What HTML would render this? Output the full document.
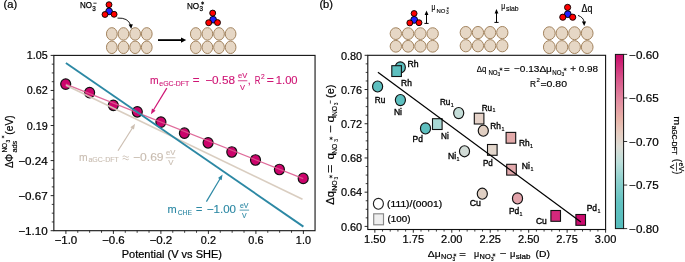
<!DOCTYPE html>
<html><head><meta charset="utf-8"><style>
html,body{margin:0;padding:0;background:#fff;overflow:hidden}
svg{display:block;will-change:transform}
text{font-family:"Liberation Sans", sans-serif}
</style></head><body>
<svg width="685" height="262" viewBox="0 0 685 262" font-family='"Liberation Sans", sans-serif'>
<rect width="685" height="262" fill="#fff"/>
<text x="3.6" y="7.7" font-size="10" fill="#000" stroke="#000" stroke-width="0.2" textLength="13.6" lengthAdjust="spacingAndGlyphs" >(a)</text>
<text x="319.4" y="7.7" font-size="10" fill="#000" stroke="#000" stroke-width="0.2" textLength="13.6" lengthAdjust="spacingAndGlyphs" >(b)</text>
<g stroke="#000" stroke-width="0.25">
<text x="80" y="7.9" font-size="9.0" textLength="12.0" lengthAdjust="spacingAndGlyphs">NO</text>
<text x="92.2" y="10.5" font-size="6.3">3</text>
</g>
<line x1="93.4" y1="3.2" x2="96.6" y2="3.2" stroke="#000" stroke-width="0.8" />
<circle cx="109" cy="4.7" r="2.95" fill="#ff0000" stroke="#000" stroke-width="0.9"/>
<circle cx="109.1" cy="11.4" r="3.4" fill="#1f1fff" stroke="#000" stroke-width="0.9"/>
<circle cx="105" cy="14.5" r="2.95" fill="#ff0000" stroke="#000" stroke-width="0.9"/>
<circle cx="114.1" cy="14.3" r="2.95" fill="#ff0000" stroke="#000" stroke-width="0.9"/>
<path d="M117.5,18.1 Q128,17.5 130.6,25" fill="none" stroke="#000" stroke-width="0.9"/>
<polygon points="131.2,29 128.6,24.4 132.8,24.2" fill="#000"/>
<ellipse cx="111.83" cy="33.9" rx="5.37" ry="6.25" fill="#e6d7c5" stroke="#a3845f" stroke-width="1.0"/>
<ellipse cx="123.47" cy="33.9" rx="5.37" ry="6.25" fill="#e6d7c5" stroke="#a3845f" stroke-width="1.0"/>
<ellipse cx="135.12" cy="33.9" rx="5.37" ry="6.25" fill="#e6d7c5" stroke="#a3845f" stroke-width="1.0"/>
<ellipse cx="146.77" cy="33.9" rx="5.37" ry="6.25" fill="#e6d7c5" stroke="#a3845f" stroke-width="1.0"/>
<ellipse cx="111.83" cy="47.3" rx="5.37" ry="6.25" fill="#e6d7c5" stroke="#a3845f" stroke-width="1.0"/>
<ellipse cx="123.47" cy="47.3" rx="5.37" ry="6.25" fill="#e6d7c5" stroke="#a3845f" stroke-width="1.0"/>
<ellipse cx="135.12" cy="47.3" rx="5.37" ry="6.25" fill="#e6d7c5" stroke="#a3845f" stroke-width="1.0"/>
<ellipse cx="146.77" cy="47.3" rx="5.37" ry="6.25" fill="#e6d7c5" stroke="#a3845f" stroke-width="1.0"/>
<line x1="158" y1="40.1" x2="181.5" y2="40.1" stroke="#000" stroke-width="1.8" />
<polygon points="186.2,40.1 181,42.7 181,37.5" fill="#000"/>
<g stroke="#000" stroke-width="0.25">
<text x="187" y="8.8" font-size="9.8" textLength="12.2" lengthAdjust="spacingAndGlyphs">NO</text>
<text x="199.4" y="11.4" font-size="6.3">3</text>
</g>
<path d="M202.60,1.40L202.60,4.80M201.13,2.25L204.07,3.95M204.07,2.25L201.13,3.95" stroke="#000" stroke-width="0.75" fill="none"/>
<circle cx="212.7" cy="13.1" r="3.0" fill="#ff0000" stroke="#000" stroke-width="0.9"/>
<circle cx="213.1" cy="19.7" r="3.4" fill="#1f1fff" stroke="#000" stroke-width="0.9"/>
<circle cx="208.7" cy="22.7" r="3.0" fill="#ff0000" stroke="#000" stroke-width="0.9"/>
<circle cx="217.5" cy="22.6" r="3.0" fill="#ff0000" stroke="#000" stroke-width="0.9"/>
<ellipse cx="195.8" cy="33.9" rx="5.35" ry="6.25" fill="#e6d7c5" stroke="#a3845f" stroke-width="1.0"/>
<ellipse cx="207.4" cy="33.9" rx="5.35" ry="6.25" fill="#e6d7c5" stroke="#a3845f" stroke-width="1.0"/>
<ellipse cx="219" cy="33.9" rx="5.35" ry="6.25" fill="#e6d7c5" stroke="#a3845f" stroke-width="1.0"/>
<ellipse cx="230.6" cy="33.9" rx="5.35" ry="6.25" fill="#e6d7c5" stroke="#a3845f" stroke-width="1.0"/>
<ellipse cx="195.8" cy="47.3" rx="5.35" ry="6.25" fill="#e6d7c5" stroke="#a3845f" stroke-width="1.0"/>
<ellipse cx="207.4" cy="47.3" rx="5.35" ry="6.25" fill="#e6d7c5" stroke="#a3845f" stroke-width="1.0"/>
<ellipse cx="219" cy="47.3" rx="5.35" ry="6.25" fill="#e6d7c5" stroke="#a3845f" stroke-width="1.0"/>
<ellipse cx="230.6" cy="47.3" rx="5.35" ry="6.25" fill="#e6d7c5" stroke="#a3845f" stroke-width="1.0"/>
<rect x="53.85" y="55.4" width="261.2" height="175.3" fill="none" stroke="#111" stroke-width="1.1"/>
<line x1="65.9" y1="230.7" x2="65.9" y2="233.9" stroke="#111" stroke-width="0.9" />
<line x1="77.78" y1="230.7" x2="77.78" y2="232.8" stroke="#111" stroke-width="0.8" />
<line x1="89.65" y1="230.7" x2="89.65" y2="232.8" stroke="#111" stroke-width="0.8" />
<line x1="101.53" y1="230.7" x2="101.53" y2="232.8" stroke="#111" stroke-width="0.8" />
<line x1="113.4" y1="230.7" x2="113.4" y2="233.9" stroke="#111" stroke-width="0.9" />
<line x1="125.28" y1="230.7" x2="125.28" y2="232.8" stroke="#111" stroke-width="0.8" />
<line x1="137.15" y1="230.7" x2="137.15" y2="232.8" stroke="#111" stroke-width="0.8" />
<line x1="149.03" y1="230.7" x2="149.03" y2="232.8" stroke="#111" stroke-width="0.8" />
<line x1="160.9" y1="230.7" x2="160.9" y2="233.9" stroke="#111" stroke-width="0.9" />
<line x1="172.78" y1="230.7" x2="172.78" y2="232.8" stroke="#111" stroke-width="0.8" />
<line x1="184.65" y1="230.7" x2="184.65" y2="232.8" stroke="#111" stroke-width="0.8" />
<line x1="196.53" y1="230.7" x2="196.53" y2="232.8" stroke="#111" stroke-width="0.8" />
<line x1="208.4" y1="230.7" x2="208.4" y2="233.9" stroke="#111" stroke-width="0.9" />
<line x1="220.28" y1="230.7" x2="220.28" y2="232.8" stroke="#111" stroke-width="0.8" />
<line x1="232.15" y1="230.7" x2="232.15" y2="232.8" stroke="#111" stroke-width="0.8" />
<line x1="244.03" y1="230.7" x2="244.03" y2="232.8" stroke="#111" stroke-width="0.8" />
<line x1="255.9" y1="230.7" x2="255.9" y2="233.9" stroke="#111" stroke-width="0.9" />
<line x1="267.77" y1="230.7" x2="267.77" y2="232.8" stroke="#111" stroke-width="0.8" />
<line x1="279.65" y1="230.7" x2="279.65" y2="232.8" stroke="#111" stroke-width="0.8" />
<line x1="291.52" y1="230.7" x2="291.52" y2="232.8" stroke="#111" stroke-width="0.8" />
<line x1="303.4" y1="230.7" x2="303.4" y2="233.9" stroke="#111" stroke-width="0.9" />
<text x="54.5" y="243.8" font-size="10.5" fill="#000" stroke="#000" stroke-width="0.2" textLength="22.8" lengthAdjust="spacingAndGlyphs" >−1.0</text>
<text x="102" y="243.8" font-size="10.5" fill="#000" stroke="#000" stroke-width="0.2" textLength="22.8" lengthAdjust="spacingAndGlyphs" >−0.6</text>
<text x="149.5" y="243.8" font-size="10.5" fill="#000" stroke="#000" stroke-width="0.2" textLength="22.8" lengthAdjust="spacingAndGlyphs" >−0.2</text>
<text x="200.85" y="243.8" font-size="10.5" fill="#000" stroke="#000" stroke-width="0.2" textLength="15.1" lengthAdjust="spacingAndGlyphs" >0.2</text>
<text x="248.35" y="243.8" font-size="10.5" fill="#000" stroke="#000" stroke-width="0.2" textLength="15.1" lengthAdjust="spacingAndGlyphs" >0.6</text>
<text x="295.85" y="243.8" font-size="10.5" fill="#000" stroke="#000" stroke-width="0.2" textLength="15.1" lengthAdjust="spacingAndGlyphs" >1.0</text>
<line x1="50.65" y1="55.4" x2="53.85" y2="55.4" stroke="#111" stroke-width="0.9" />
<line x1="51.75" y1="64.17" x2="53.85" y2="64.17" stroke="#111" stroke-width="0.8" />
<line x1="51.75" y1="72.93" x2="53.85" y2="72.93" stroke="#111" stroke-width="0.8" />
<line x1="51.75" y1="81.69" x2="53.85" y2="81.69" stroke="#111" stroke-width="0.8" />
<line x1="50.65" y1="90.46" x2="53.85" y2="90.46" stroke="#111" stroke-width="0.9" />
<line x1="51.75" y1="99.22" x2="53.85" y2="99.22" stroke="#111" stroke-width="0.8" />
<line x1="51.75" y1="107.99" x2="53.85" y2="107.99" stroke="#111" stroke-width="0.8" />
<line x1="51.75" y1="116.75" x2="53.85" y2="116.75" stroke="#111" stroke-width="0.8" />
<line x1="50.65" y1="125.52" x2="53.85" y2="125.52" stroke="#111" stroke-width="0.9" />
<line x1="51.75" y1="134.28" x2="53.85" y2="134.28" stroke="#111" stroke-width="0.8" />
<line x1="51.75" y1="143.05" x2="53.85" y2="143.05" stroke="#111" stroke-width="0.8" />
<line x1="51.75" y1="151.81" x2="53.85" y2="151.81" stroke="#111" stroke-width="0.8" />
<line x1="50.65" y1="160.58" x2="53.85" y2="160.58" stroke="#111" stroke-width="0.9" />
<line x1="51.75" y1="169.34" x2="53.85" y2="169.34" stroke="#111" stroke-width="0.8" />
<line x1="51.75" y1="178.11" x2="53.85" y2="178.11" stroke="#111" stroke-width="0.8" />
<line x1="51.75" y1="186.88" x2="53.85" y2="186.88" stroke="#111" stroke-width="0.8" />
<line x1="50.65" y1="195.64" x2="53.85" y2="195.64" stroke="#111" stroke-width="0.9" />
<line x1="51.75" y1="204.4" x2="53.85" y2="204.4" stroke="#111" stroke-width="0.8" />
<line x1="51.75" y1="213.17" x2="53.85" y2="213.17" stroke="#111" stroke-width="0.8" />
<line x1="51.75" y1="221.94" x2="53.85" y2="221.94" stroke="#111" stroke-width="0.8" />
<line x1="50.65" y1="230.7" x2="53.85" y2="230.7" stroke="#111" stroke-width="0.9" />
<text x="26.8" y="59.4" font-size="10.5" fill="#000" stroke="#000" stroke-width="0.2" textLength="21" lengthAdjust="spacingAndGlyphs" >1.05</text>
<text x="26.8" y="94.46" font-size="10.5" fill="#000" stroke="#000" stroke-width="0.2" textLength="21" lengthAdjust="spacingAndGlyphs" >0.62</text>
<text x="26.8" y="129.52" font-size="10.5" fill="#000" stroke="#000" stroke-width="0.2" textLength="21" lengthAdjust="spacingAndGlyphs" >0.19</text>
<text x="18.3" y="164.58" font-size="10.5" fill="#000" stroke="#000" stroke-width="0.2" textLength="29.5" lengthAdjust="spacingAndGlyphs" >−0.24</text>
<text x="18.3" y="199.64" font-size="10.5" fill="#000" stroke="#000" stroke-width="0.2" textLength="29.5" lengthAdjust="spacingAndGlyphs" >−0.67</text>
<text x="18.3" y="234.7" font-size="10.5" fill="#000" stroke="#000" stroke-width="0.2" textLength="29.5" lengthAdjust="spacingAndGlyphs" >−1.10</text>
<text x="121.7" y="258" font-size="10" fill="#000" stroke="#000" stroke-width="0.2" textLength="100.3" lengthAdjust="spacingAndGlyphs" >Potential (V vs SHE)</text>
<g transform="translate(13.0,168.4) rotate(-90)" stroke="#000" stroke-width="0.18"><text x="0.3" y="0" font-size="10.5" textLength="14.2" lengthAdjust="spacingAndGlyphs">ΔΦ</text><text x="15.8" y="-5.8" font-size="6.6" textLength="9.8" lengthAdjust="spacingAndGlyphs">NO</text><text x="25.8" y="-3.4" font-size="4.8">3</text><text x="15.8" y="3.7" font-size="6.8" textLength="11.9" lengthAdjust="spacingAndGlyphs">ads</text><text x="33.7" y="0.4" font-size="10.5" textLength="19.4" lengthAdjust="spacingAndGlyphs">(eV)</text></g>
<path d="M3.00,135.50L3.00,138.30M1.79,136.20L4.21,137.60M4.21,136.20L1.79,137.60" stroke="#000" stroke-width="0.6" fill="none"/>
<ellipse cx="65.7" cy="84.1" rx="5.0" ry="5.25" fill="#cc046c" stroke="#111" stroke-width="1.2"/>
<ellipse cx="89.6" cy="92.6" rx="5.0" ry="5.25" fill="#cc046c" stroke="#111" stroke-width="1.2"/>
<ellipse cx="113.3" cy="105.3" rx="5.0" ry="5.25" fill="#cc046c" stroke="#111" stroke-width="1.2"/>
<ellipse cx="137.3" cy="111.8" rx="5.0" ry="5.25" fill="#cc046c" stroke="#111" stroke-width="1.2"/>
<ellipse cx="160.9" cy="122.1" rx="5.0" ry="5.25" fill="#cc046c" stroke="#111" stroke-width="1.2"/>
<ellipse cx="184.4" cy="133.2" rx="5.0" ry="5.25" fill="#cc046c" stroke="#111" stroke-width="1.2"/>
<ellipse cx="208.1" cy="142.8" rx="5.0" ry="5.25" fill="#cc046c" stroke="#111" stroke-width="1.2"/>
<ellipse cx="231.8" cy="152.0" rx="5.0" ry="5.25" fill="#cc046c" stroke="#111" stroke-width="1.2"/>
<ellipse cx="255.5" cy="160.0" rx="5.0" ry="5.25" fill="#cc046c" stroke="#111" stroke-width="1.2"/>
<ellipse cx="279.4" cy="169.5" rx="5.0" ry="5.25" fill="#cc046c" stroke="#111" stroke-width="1.2"/>
<ellipse cx="303.2" cy="178.4" rx="5.0" ry="5.25" fill="#cc046c" stroke="#111" stroke-width="1.2"/>
<line x1="65.7" y1="84.1" x2="303.2" y2="178.7" stroke="#dc5a8e" stroke-width="1.3" stroke-opacity="0.9"/>
<line x1="65.9" y1="85.2" x2="302.5" y2="199.3" stroke="#d6c9bb" stroke-width="1.7" stroke-opacity="0.92"/>
<line x1="65.9" y1="63" x2="303.4" y2="226.6" stroke="#2c88a4" stroke-width="1.9" />
<line x1="166.8" y1="88.1" x2="153.49" y2="110.03" stroke="#cf1675" stroke-width="1.2" />
<polygon points="150.9,114.3 151.96,108.51 155.55,110.69" fill="#cf1675"/>
<line x1="118" y1="150.7" x2="132.42" y2="128.02" stroke="#cdbfb2" stroke-width="1.2" />
<polygon points="135.1,123.8 133.92,129.57 130.38,127.31" fill="#cdbfb2"/>
<line x1="206.4" y1="201.6" x2="220.04" y2="178.7" stroke="#2c88a4" stroke-width="1.2" />
<polygon points="222.6,174.4 221.59,180.2 217.98,178.05" fill="#2c88a4"/>
<text x="149.9" y="84.4" font-size="10.6" fill="#cf1675" stroke="#cf1675" stroke-width="0.12" textLength="8.6" lengthAdjust="spacingAndGlyphs" >m</text>
<text x="159.3" y="86" font-size="7.0" fill="#cf1675" stroke="#cf1675" stroke-width="0.12" textLength="30" lengthAdjust="spacingAndGlyphs" >eGC-DFT</text>
<text x="192.8" y="84.4" font-size="10.6" fill="#cf1675" stroke="#cf1675" stroke-width="0.12" textLength="6.8" lengthAdjust="spacingAndGlyphs" >=</text>
<text x="205.2" y="84.4" font-size="10.6" fill="#cf1675" stroke="#cf1675" stroke-width="0.12" textLength="29.8" lengthAdjust="spacingAndGlyphs" >−0.58</text>
<text x="238" y="78.4" font-size="7.0" fill="#cf1675" stroke="#cf1675" stroke-width="0.12" textLength="9.2" lengthAdjust="spacingAndGlyphs" >eV</text>
<rect x="237.9" y="80.4" width="9.4" height="0.8" fill="#cf1675"/>
<text x="240" y="89.6" font-size="7.0" fill="#cf1675" stroke="#cf1675" stroke-width="0.12" textLength="5" lengthAdjust="spacingAndGlyphs" >V</text>
<text x="247.8" y="84.4" font-size="10.6" fill="#cf1675" stroke="#cf1675" stroke-width="0.12" >,</text>
<text x="254.7" y="84.4" font-size="10.6" fill="#cf1675" stroke="#cf1675" stroke-width="0.12" textLength="5.7" lengthAdjust="spacingAndGlyphs" >R</text>
<text x="261" y="79" font-size="7.0" fill="#cf1675" stroke="#cf1675" stroke-width="0.12" textLength="3.7" lengthAdjust="spacingAndGlyphs" >2</text>
<text x="266.7" y="84.4" font-size="10.6" fill="#cf1675" stroke="#cf1675" stroke-width="0.12" textLength="7.1" lengthAdjust="spacingAndGlyphs" >=</text>
<text x="275.8" y="84.4" font-size="10.6" fill="#cf1675" stroke="#cf1675" stroke-width="0.12" textLength="21.8" lengthAdjust="spacingAndGlyphs" >1.00</text>
<text x="79.1" y="160.8" font-size="10.6" fill="#c9bdb1" stroke="#c9bdb1" stroke-width="0.12" textLength="8.6" lengthAdjust="spacingAndGlyphs" >m</text>
<text x="88.4" y="162.4" font-size="7.0" fill="#c9bdb1" stroke="#c9bdb1" stroke-width="0.12" textLength="30.5" lengthAdjust="spacingAndGlyphs" >aGC-DFT</text>
<path d="M122.6,156.6 q1.55,-1.5 3.1,0 t3.1,0 M122.6,159.1 q1.55,-1.5 3.1,0 t3.1,0" fill="none" stroke="#c9bdb1" stroke-width="0.9"/>
<text x="133" y="160.8" font-size="10.6" fill="#c9bdb1" stroke="#c9bdb1" stroke-width="0.12" textLength="30.6" lengthAdjust="spacingAndGlyphs" >−0.69</text>
<text x="166" y="154.7" font-size="7.0" fill="#c9bdb1" stroke="#c9bdb1" stroke-width="0.12" textLength="9.4" lengthAdjust="spacingAndGlyphs" >eV</text>
<rect x="165.7" y="157.4" width="9.7" height="0.8" fill="#c9bdb1"/>
<text x="168.2" y="165.4" font-size="7.0" fill="#c9bdb1" stroke="#c9bdb1" stroke-width="0.12" textLength="5.2" lengthAdjust="spacingAndGlyphs" >V</text>
<text x="167.6" y="212.8" font-size="10.6" fill="#2c88a4" stroke="#2c88a4" stroke-width="0.12" textLength="9.2" lengthAdjust="spacingAndGlyphs" >m</text>
<text x="177.7" y="214.8" font-size="7.6" fill="#2c88a4" stroke="#2c88a4" stroke-width="0.12" textLength="14.2" lengthAdjust="spacingAndGlyphs" >CHE</text>
<text x="195.9" y="212.8" font-size="10.6" fill="#2c88a4" stroke="#2c88a4" stroke-width="0.12" textLength="6.3" lengthAdjust="spacingAndGlyphs" >=</text>
<text x="206.8" y="212.8" font-size="10.6" fill="#2c88a4" stroke="#2c88a4" stroke-width="0.12" textLength="29.2" lengthAdjust="spacingAndGlyphs" >−1.00</text>
<text x="239.9" y="207.5" font-size="7.0" fill="#2c88a4" stroke="#2c88a4" stroke-width="0.12" textLength="8.5" lengthAdjust="spacingAndGlyphs" >eV</text>
<rect x="239.6" y="209.7" width="9.5" height="0.8" fill="#2c88a4"/>
<text x="241.9" y="218.4" font-size="7.0" fill="#2c88a4" stroke="#2c88a4" stroke-width="0.12" textLength="4.6" lengthAdjust="spacingAndGlyphs" >V</text>
<ellipse cx="395.84" cy="33.62" rx="5.69" ry="5.88" fill="#e6d7c5" stroke="#a3845f" stroke-width="1.0"/>
<ellipse cx="408.11" cy="33.62" rx="5.69" ry="5.88" fill="#e6d7c5" stroke="#a3845f" stroke-width="1.0"/>
<ellipse cx="420.39" cy="33.62" rx="5.69" ry="5.88" fill="#e6d7c5" stroke="#a3845f" stroke-width="1.0"/>
<ellipse cx="432.66" cy="33.62" rx="5.69" ry="5.88" fill="#e6d7c5" stroke="#a3845f" stroke-width="1.0"/>
<ellipse cx="395.84" cy="46.28" rx="5.69" ry="5.88" fill="#e6d7c5" stroke="#a3845f" stroke-width="1.0"/>
<ellipse cx="408.11" cy="46.28" rx="5.69" ry="5.88" fill="#e6d7c5" stroke="#a3845f" stroke-width="1.0"/>
<ellipse cx="420.39" cy="46.28" rx="5.69" ry="5.88" fill="#e6d7c5" stroke="#a3845f" stroke-width="1.0"/>
<ellipse cx="432.66" cy="46.28" rx="5.69" ry="5.88" fill="#e6d7c5" stroke="#a3845f" stroke-width="1.0"/>
<circle cx="414.1" cy="13.5" r="2.95" fill="#ff0000" stroke="#000" stroke-width="0.9"/>
<circle cx="414.2" cy="19.9" r="3.45" fill="#1f1fff" stroke="#000" stroke-width="0.9"/>
<circle cx="409.8" cy="22.9" r="2.95" fill="#ff0000" stroke="#000" stroke-width="0.9"/>
<circle cx="419" cy="22.7" r="2.95" fill="#ff0000" stroke="#000" stroke-width="0.9"/>
<line x1="424.4" y1="23.4" x2="428.6" y2="23.4" stroke="#000" stroke-width="1.0" />
<line x1="426.5" y1="23.4" x2="426.5" y2="14.4" stroke="#000" stroke-width="1.0" />
<polygon points="426.5,10.4 424.6,15 428.4,15" fill="#000"/>
<line x1="494.4" y1="22.4" x2="498.6" y2="22.4" stroke="#000" stroke-width="1.0" />
<line x1="496.5" y1="22.4" x2="496.5" y2="13" stroke="#000" stroke-width="1.0" />
<polygon points="496.5,9 494.6,13.6 498.4,13.6" fill="#000"/>
<text x="431.6" y="10.2" font-size="8.8" fill="#000" stroke="#000" stroke-width="0.2" textLength="3.8" lengthAdjust="spacingAndGlyphs" >μ</text>
<text x="436.6" y="12.9" font-size="5.8" fill="#000" stroke="#000" stroke-width="0.12" textLength="8.9" lengthAdjust="spacingAndGlyphs" >NO</text>
<text x="446" y="14.2" font-size="4.8" fill="#000" stroke="#000" stroke-width="0.1" >3</text>
<path d="M447.80,7.10L447.80,9.50M446.76,7.70L448.84,8.90M448.84,7.70L446.76,8.90" stroke="#000" stroke-width="0.5" fill="none"/>
<ellipse cx="465.79" cy="32.58" rx="5.64" ry="6.12" fill="#e6d7c5" stroke="#a3845f" stroke-width="1.0"/>
<ellipse cx="477.96" cy="32.58" rx="5.64" ry="6.12" fill="#e6d7c5" stroke="#a3845f" stroke-width="1.0"/>
<ellipse cx="490.14" cy="32.58" rx="5.64" ry="6.12" fill="#e6d7c5" stroke="#a3845f" stroke-width="1.0"/>
<ellipse cx="502.31" cy="32.58" rx="5.64" ry="6.12" fill="#e6d7c5" stroke="#a3845f" stroke-width="1.0"/>
<ellipse cx="465.79" cy="45.72" rx="5.64" ry="6.12" fill="#e6d7c5" stroke="#a3845f" stroke-width="1.0"/>
<ellipse cx="477.96" cy="45.72" rx="5.64" ry="6.12" fill="#e6d7c5" stroke="#a3845f" stroke-width="1.0"/>
<ellipse cx="490.14" cy="45.72" rx="5.64" ry="6.12" fill="#e6d7c5" stroke="#a3845f" stroke-width="1.0"/>
<ellipse cx="502.31" cy="45.72" rx="5.64" ry="6.12" fill="#e6d7c5" stroke="#a3845f" stroke-width="1.0"/>
<text x="501.2" y="9" font-size="8.8" fill="#000" stroke="#000" stroke-width="0.2" textLength="3.9" lengthAdjust="spacingAndGlyphs" >μ</text>
<text x="506" y="10.9" font-size="6.8" fill="#000" stroke="#000" stroke-width="0.12" textLength="12.6" lengthAdjust="spacingAndGlyphs" >slab</text>
<ellipse cx="549.31" cy="33.23" rx="5.86" ry="6.47" fill="#e6d7c5" stroke="#a3845f" stroke-width="1.0"/>
<ellipse cx="561.94" cy="33.23" rx="5.86" ry="6.47" fill="#e6d7c5" stroke="#a3845f" stroke-width="1.0"/>
<ellipse cx="574.56" cy="33.23" rx="5.86" ry="6.47" fill="#e6d7c5" stroke="#a3845f" stroke-width="1.0"/>
<ellipse cx="587.19" cy="33.23" rx="5.86" ry="6.47" fill="#e6d7c5" stroke="#a3845f" stroke-width="1.0"/>
<ellipse cx="549.31" cy="47.08" rx="5.86" ry="6.47" fill="#e6d7c5" stroke="#a3845f" stroke-width="1.0"/>
<ellipse cx="561.94" cy="47.08" rx="5.86" ry="6.47" fill="#e6d7c5" stroke="#a3845f" stroke-width="1.0"/>
<ellipse cx="574.56" cy="47.08" rx="5.86" ry="6.47" fill="#e6d7c5" stroke="#a3845f" stroke-width="1.0"/>
<ellipse cx="587.19" cy="47.08" rx="5.86" ry="6.47" fill="#e6d7c5" stroke="#a3845f" stroke-width="1.0"/>
<circle cx="567.6" cy="7.4" r="3.1" fill="#ff0000" stroke="#000" stroke-width="0.9"/>
<circle cx="567.8" cy="14.2" r="3.4" fill="#1f1fff" stroke="#000" stroke-width="0.9"/>
<circle cx="562.8" cy="17.2" r="3.1" fill="#ff0000" stroke="#000" stroke-width="0.9"/>
<circle cx="572.7" cy="17.2" r="3.1" fill="#ff0000" stroke="#000" stroke-width="0.9"/>
<path d="M578.0,15.4 Q583.6,17.4 584.1,22" fill="none" stroke="#000" stroke-width="0.9"/>
<polygon points="584.2,25.9 581.9,21.6 586.1,21.6" fill="#000"/>
<text x="581.5" y="11.5" font-size="10" fill="#000" stroke="#000" stroke-width="0.2" textLength="10.8" lengthAdjust="spacingAndGlyphs" >Δq</text>
<rect x="367.8" y="55.3" width="237.8" height="174.2" fill="none" stroke="#111" stroke-width="1.1"/>
<line x1="374.85" y1="229.5" x2="374.85" y2="232.7" stroke="#111" stroke-width="0.9" />
<line x1="382.54" y1="229.5" x2="382.54" y2="231.6" stroke="#111" stroke-width="0.8" />
<line x1="390.23" y1="229.5" x2="390.23" y2="231.6" stroke="#111" stroke-width="0.8" />
<line x1="397.93" y1="229.5" x2="397.93" y2="231.6" stroke="#111" stroke-width="0.8" />
<line x1="405.62" y1="229.5" x2="405.62" y2="231.6" stroke="#111" stroke-width="0.8" />
<line x1="413.31" y1="229.5" x2="413.31" y2="232.7" stroke="#111" stroke-width="0.9" />
<line x1="421" y1="229.5" x2="421" y2="231.6" stroke="#111" stroke-width="0.8" />
<line x1="428.69" y1="229.5" x2="428.69" y2="231.6" stroke="#111" stroke-width="0.8" />
<line x1="436.38" y1="229.5" x2="436.38" y2="231.6" stroke="#111" stroke-width="0.8" />
<line x1="444.08" y1="229.5" x2="444.08" y2="231.6" stroke="#111" stroke-width="0.8" />
<line x1="451.77" y1="229.5" x2="451.77" y2="232.7" stroke="#111" stroke-width="0.9" />
<line x1="459.46" y1="229.5" x2="459.46" y2="231.6" stroke="#111" stroke-width="0.8" />
<line x1="467.15" y1="229.5" x2="467.15" y2="231.6" stroke="#111" stroke-width="0.8" />
<line x1="474.84" y1="229.5" x2="474.84" y2="231.6" stroke="#111" stroke-width="0.8" />
<line x1="482.53" y1="229.5" x2="482.53" y2="231.6" stroke="#111" stroke-width="0.8" />
<line x1="490.23" y1="229.5" x2="490.23" y2="232.7" stroke="#111" stroke-width="0.9" />
<line x1="497.92" y1="229.5" x2="497.92" y2="231.6" stroke="#111" stroke-width="0.8" />
<line x1="505.61" y1="229.5" x2="505.61" y2="231.6" stroke="#111" stroke-width="0.8" />
<line x1="513.3" y1="229.5" x2="513.3" y2="231.6" stroke="#111" stroke-width="0.8" />
<line x1="520.99" y1="229.5" x2="520.99" y2="231.6" stroke="#111" stroke-width="0.8" />
<line x1="528.68" y1="229.5" x2="528.68" y2="232.7" stroke="#111" stroke-width="0.9" />
<line x1="536.38" y1="229.5" x2="536.38" y2="231.6" stroke="#111" stroke-width="0.8" />
<line x1="544.07" y1="229.5" x2="544.07" y2="231.6" stroke="#111" stroke-width="0.8" />
<line x1="551.76" y1="229.5" x2="551.76" y2="231.6" stroke="#111" stroke-width="0.8" />
<line x1="559.45" y1="229.5" x2="559.45" y2="231.6" stroke="#111" stroke-width="0.8" />
<line x1="567.14" y1="229.5" x2="567.14" y2="232.7" stroke="#111" stroke-width="0.9" />
<line x1="574.83" y1="229.5" x2="574.83" y2="231.6" stroke="#111" stroke-width="0.8" />
<line x1="582.53" y1="229.5" x2="582.53" y2="231.6" stroke="#111" stroke-width="0.8" />
<line x1="590.22" y1="229.5" x2="590.22" y2="231.6" stroke="#111" stroke-width="0.8" />
<line x1="597.91" y1="229.5" x2="597.91" y2="231.6" stroke="#111" stroke-width="0.8" />
<line x1="605.6" y1="229.5" x2="605.6" y2="232.7" stroke="#111" stroke-width="0.9" />
<text x="364.1" y="243.3" font-size="10.5" fill="#000" stroke="#000" stroke-width="0.2" textLength="21.5" lengthAdjust="spacingAndGlyphs" >1.50</text>
<text x="402.56" y="243.3" font-size="10.5" fill="#000" stroke="#000" stroke-width="0.2" textLength="21.5" lengthAdjust="spacingAndGlyphs" >1.75</text>
<text x="441.02" y="243.3" font-size="10.5" fill="#000" stroke="#000" stroke-width="0.2" textLength="21.5" lengthAdjust="spacingAndGlyphs" >2.00</text>
<text x="479.48" y="243.3" font-size="10.5" fill="#000" stroke="#000" stroke-width="0.2" textLength="21.5" lengthAdjust="spacingAndGlyphs" >2.25</text>
<text x="517.93" y="243.3" font-size="10.5" fill="#000" stroke="#000" stroke-width="0.2" textLength="21.5" lengthAdjust="spacingAndGlyphs" >2.50</text>
<text x="556.39" y="243.3" font-size="10.5" fill="#000" stroke="#000" stroke-width="0.2" textLength="21.5" lengthAdjust="spacingAndGlyphs" >2.75</text>
<text x="594.85" y="243.3" font-size="10.5" fill="#000" stroke="#000" stroke-width="0.2" textLength="21.5" lengthAdjust="spacingAndGlyphs" >3.00</text>
<line x1="364.6" y1="55.3" x2="367.8" y2="55.3" stroke="#111" stroke-width="0.9" />
<line x1="365.7" y1="63.86" x2="367.8" y2="63.86" stroke="#111" stroke-width="0.8" />
<line x1="365.7" y1="72.41" x2="367.8" y2="72.41" stroke="#111" stroke-width="0.8" />
<line x1="365.7" y1="80.97" x2="367.8" y2="80.97" stroke="#111" stroke-width="0.8" />
<line x1="364.6" y1="89.52" x2="367.8" y2="89.52" stroke="#111" stroke-width="0.9" />
<line x1="365.7" y1="98.08" x2="367.8" y2="98.08" stroke="#111" stroke-width="0.8" />
<line x1="365.7" y1="106.63" x2="367.8" y2="106.63" stroke="#111" stroke-width="0.8" />
<line x1="365.7" y1="115.19" x2="367.8" y2="115.19" stroke="#111" stroke-width="0.8" />
<line x1="364.6" y1="123.74" x2="367.8" y2="123.74" stroke="#111" stroke-width="0.9" />
<line x1="365.7" y1="132.29" x2="367.8" y2="132.29" stroke="#111" stroke-width="0.8" />
<line x1="365.7" y1="140.85" x2="367.8" y2="140.85" stroke="#111" stroke-width="0.8" />
<line x1="365.7" y1="149.41" x2="367.8" y2="149.41" stroke="#111" stroke-width="0.8" />
<line x1="364.6" y1="157.96" x2="367.8" y2="157.96" stroke="#111" stroke-width="0.9" />
<line x1="365.7" y1="166.51" x2="367.8" y2="166.51" stroke="#111" stroke-width="0.8" />
<line x1="365.7" y1="175.07" x2="367.8" y2="175.07" stroke="#111" stroke-width="0.8" />
<line x1="365.7" y1="183.62" x2="367.8" y2="183.62" stroke="#111" stroke-width="0.8" />
<line x1="364.6" y1="192.18" x2="367.8" y2="192.18" stroke="#111" stroke-width="0.9" />
<line x1="365.7" y1="200.74" x2="367.8" y2="200.74" stroke="#111" stroke-width="0.8" />
<line x1="365.7" y1="209.29" x2="367.8" y2="209.29" stroke="#111" stroke-width="0.8" />
<line x1="365.7" y1="217.84" x2="367.8" y2="217.84" stroke="#111" stroke-width="0.8" />
<line x1="364.6" y1="226.4" x2="367.8" y2="226.4" stroke="#111" stroke-width="0.9" />
<text x="340.9" y="59.6" font-size="10.5" fill="#000" stroke="#000" stroke-width="0.2" textLength="21.3" lengthAdjust="spacingAndGlyphs" >0.80</text>
<text x="340.9" y="93.82" font-size="10.5" fill="#000" stroke="#000" stroke-width="0.2" textLength="21.3" lengthAdjust="spacingAndGlyphs" >0.76</text>
<text x="340.9" y="128.04" font-size="10.5" fill="#000" stroke="#000" stroke-width="0.2" textLength="21.3" lengthAdjust="spacingAndGlyphs" >0.72</text>
<text x="340.9" y="162.26" font-size="10.5" fill="#000" stroke="#000" stroke-width="0.2" textLength="21.3" lengthAdjust="spacingAndGlyphs" >0.68</text>
<text x="340.9" y="196.48" font-size="10.5" fill="#000" stroke="#000" stroke-width="0.2" textLength="21.3" lengthAdjust="spacingAndGlyphs" >0.64</text>
<text x="340.9" y="230.7" font-size="10.5" fill="#000" stroke="#000" stroke-width="0.2" textLength="21.3" lengthAdjust="spacingAndGlyphs" >0.60</text>
<text x="427.8" y="256.6" font-size="9.4" fill="#000" stroke="#000" stroke-width="0.2" textLength="12.9" lengthAdjust="spacingAndGlyphs" >Δμ</text>
<text x="441.1" y="259.4" font-size="6.4" fill="#000" stroke="#000" stroke-width="0.2" textLength="11" lengthAdjust="spacingAndGlyphs" >NO</text>
<text x="452.4" y="261.3" font-size="4.6" fill="#000" stroke="#000" stroke-width="0.2" >3</text>
<path d="M454.90,253.50L454.90,256.70M453.51,254.30L456.29,255.90M456.29,254.30L453.51,255.90" stroke="#000" stroke-width="0.7" fill="none"/>
<text x="459.2" y="256.6" font-size="9.4" fill="#000" stroke="#000" stroke-width="0.2" textLength="6.6" lengthAdjust="spacingAndGlyphs" >=</text>
<text x="473.9" y="256.6" font-size="9.4" fill="#000" stroke="#000" stroke-width="0.2" textLength="5.2" lengthAdjust="spacingAndGlyphs" >μ</text>
<text x="479.6" y="259.4" font-size="6.4" fill="#000" stroke="#000" stroke-width="0.2" textLength="11" lengthAdjust="spacingAndGlyphs" >NO</text>
<text x="490.9" y="261.3" font-size="4.6" fill="#000" stroke="#000" stroke-width="0.2" >3</text>
<path d="M494.00,253.40L494.00,256.60M492.61,254.20L495.39,255.80M495.39,254.20L492.61,255.80" stroke="#000" stroke-width="0.7" fill="none"/>
<text x="499.8" y="256.6" font-size="9.4" fill="#000" stroke="#000" stroke-width="0.2" textLength="6.7" lengthAdjust="spacingAndGlyphs" >−</text>
<text x="510" y="256.6" font-size="9.4" fill="#000" stroke="#000" stroke-width="0.2" textLength="5.4" lengthAdjust="spacingAndGlyphs" >μ</text>
<text x="515.7" y="258.8" font-size="6.6" fill="#000" stroke="#000" stroke-width="0.2" textLength="14.8" lengthAdjust="spacingAndGlyphs" >slab</text>
<text x="535.6" y="256.6" font-size="9.4" fill="#000" stroke="#000" stroke-width="0.2" textLength="14.3" lengthAdjust="spacingAndGlyphs" >(D)</text>
<g transform="translate(333.5,204.5) rotate(-90)" stroke="#000" stroke-width="0.18">
<text x="-0.2" y="0" font-size="10" textLength="13.6" lengthAdjust="spacingAndGlyphs">Δq</text>
<text x="13.8" y="3.0" font-size="6.7" textLength="10.4" lengthAdjust="spacingAndGlyphs" stroke-width="0.15">NO</text>
<text x="25.0" y="4.6" font-size="4.8" stroke-width="0.1">3</text>
<text x="31.4" y="0" font-size="10" textLength="8.2" lengthAdjust="spacingAndGlyphs">=</text>
<text x="45.0" y="0" font-size="10" textLength="6.4" lengthAdjust="spacingAndGlyphs">q</text>
<text x="50.8" y="3.0" font-size="6.7" textLength="10.0" lengthAdjust="spacingAndGlyphs" stroke-width="0.15">NO</text>
<text x="62.7" y="4.6" font-size="4.8" stroke-width="0.1">3</text>
<text x="72.0" y="0" font-size="10" textLength="7.6" lengthAdjust="spacingAndGlyphs">−</text>
<text x="82.0" y="0" font-size="10" textLength="6.8" lengthAdjust="spacingAndGlyphs">q</text>
<text x="88.4" y="3.0" font-size="6.7" textLength="10.0" lengthAdjust="spacingAndGlyphs" stroke-width="0.15">NO</text>
<text x="99.2" y="4.6" font-size="4.8" stroke-width="0.1">3</text>
<text x="106.6" y="0.2" font-size="10" textLength="13.4" lengthAdjust="spacingAndGlyphs">(e)</text>
</g>
<path d="M330.90,174.90L330.90,178.30M329.43,175.75L332.37,177.45M332.37,175.75L329.43,177.45" stroke="#000" stroke-width="0.7" fill="none"/>
<path d="M331.10,136.70L331.10,140.10M329.63,137.55L332.57,139.25M332.57,137.55L329.63,139.25" stroke="#000" stroke-width="0.7" fill="none"/>
<line x1="330.4" y1="100.4" x2="330.4" y2="103.6" stroke="#000" stroke-width="0.7" />
<ellipse cx="400.3" cy="67.4" rx="5.05" ry="5.55" fill="#5dbfbf" stroke="#111" stroke-width="1.15"/>
<ellipse cx="377.6" cy="86.5" rx="5.05" ry="5.55" fill="#5dbfbf" stroke="#111" stroke-width="1.15"/>
<ellipse cx="400.4" cy="100.1" rx="5.05" ry="5.55" fill="#5dbfbf" stroke="#111" stroke-width="1.15"/>
<ellipse cx="425.5" cy="128.4" rx="5.05" ry="5.55" fill="#5dbfbf" stroke="#111" stroke-width="1.15"/>
<ellipse cx="458.7" cy="113.1" rx="5.05" ry="5.55" fill="#c4ddd8" stroke="#111" stroke-width="1.15"/>
<ellipse cx="464.5" cy="151.3" rx="5.05" ry="5.55" fill="#d2dcd7" stroke="#111" stroke-width="1.15"/>
<ellipse cx="483.3" cy="130.7" rx="5.05" ry="5.55" fill="#e1cfc2" stroke="#111" stroke-width="1.15"/>
<ellipse cx="482.3" cy="193.7" rx="5.05" ry="5.55" fill="#e0d0c4" stroke="#111" stroke-width="1.15"/>
<ellipse cx="517.5" cy="198.4" rx="5.05" ry="5.55" fill="#e2a3aa" stroke="#111" stroke-width="1.15"/>
<rect x="391.8" y="65.7" width="9.6" height="10.8" fill="#5dbfbf" stroke="#111" stroke-width="1.1"/>
<rect x="432.5" y="118.7" width="9.6" height="10.8" fill="#a9d9d5" stroke="#111" stroke-width="1.1"/>
<rect x="474.3" y="113.2" width="9.6" height="10.8" fill="#e5d2c8" stroke="#111" stroke-width="1.1"/>
<rect x="506.1" y="132.4" width="9.6" height="10.8" fill="#e2a9a9" stroke="#111" stroke-width="1.1"/>
<rect x="487.5" y="144.5" width="9.6" height="10.8" fill="#e3d7cc" stroke="#111" stroke-width="1.1"/>
<rect x="506.7" y="164.3" width="9.6" height="10.8" fill="#e1a8ab" stroke="#111" stroke-width="1.1"/>
<rect x="550.9" y="210.5" width="9.6" height="10.8" fill="#d4287b" stroke="#111" stroke-width="1.1"/>
<rect x="575.9" y="214.5" width="9.6" height="10.8" fill="#cb0b6e" stroke="#111" stroke-width="1.1"/>
<line x1="377.9" y1="72.3" x2="580.9" y2="221.9" stroke="#000" stroke-width="1.2" />
<text x="407.6" y="66.7" font-size="9.2" fill="#000" stroke="#000" stroke-width="0.38" textLength="11.1" lengthAdjust="spacingAndGlyphs" >Rh</text>
<text x="401.1" y="86" font-size="9.2" fill="#000" stroke="#000" stroke-width="0.38" textLength="10.7" lengthAdjust="spacingAndGlyphs" >Rh</text>
<text x="374.8" y="102.7" font-size="9.2" fill="#000" stroke="#000" stroke-width="0.38" textLength="10.5" lengthAdjust="spacingAndGlyphs" >Ru</text>
<text x="393.9" y="115.3" font-size="9.2" fill="#000" stroke="#000" stroke-width="0.38" textLength="8.1" lengthAdjust="spacingAndGlyphs" >Ni</text>
<text x="412.6" y="142" font-size="9.2" fill="#000" stroke="#000" stroke-width="0.38" textLength="10.3" lengthAdjust="spacingAndGlyphs" >Pd</text>
<text x="441" y="139.1" font-size="9.2" fill="#000" stroke="#000" stroke-width="0.38" textLength="7.7" lengthAdjust="spacingAndGlyphs" >Ni</text>
<text x="482.9" y="165.8" font-size="9.2" fill="#000" stroke="#000" stroke-width="0.38" textLength="9.8" lengthAdjust="spacingAndGlyphs" >Pd</text>
<text x="469.8" y="206" font-size="9.2" fill="#000" stroke="#000" stroke-width="0.38" textLength="11.2" lengthAdjust="spacingAndGlyphs" >Cu</text>
<text x="535.9" y="224" font-size="9.2" fill="#000" stroke="#000" stroke-width="0.38" textLength="10.9" lengthAdjust="spacingAndGlyphs" >Cu</text>
<text x="440" y="105" font-size="9.2" fill="#000" stroke="#000" stroke-width="0.38" textLength="10.4" lengthAdjust="spacingAndGlyphs" >Ru</text>
<text x="450.8" y="106.8" font-size="6.2" fill="#000" stroke="#000" stroke-width="0.2" textLength="3" lengthAdjust="spacingAndGlyphs" >1</text>
<text x="481.7" y="110.5" font-size="9.2" fill="#000" stroke="#000" stroke-width="0.38" textLength="10.4" lengthAdjust="spacingAndGlyphs" >Ru</text>
<text x="492.5" y="112.3" font-size="6.2" fill="#000" stroke="#000" stroke-width="0.2" textLength="3" lengthAdjust="spacingAndGlyphs" >1</text>
<text x="490.3" y="129" font-size="9.2" fill="#000" stroke="#000" stroke-width="0.38" textLength="10.7" lengthAdjust="spacingAndGlyphs" >Rh</text>
<text x="501.4" y="130.8" font-size="6.2" fill="#000" stroke="#000" stroke-width="0.2" textLength="3" lengthAdjust="spacingAndGlyphs" >1</text>
<text x="519" y="146.2" font-size="9.2" fill="#000" stroke="#000" stroke-width="0.38" textLength="10.7" lengthAdjust="spacingAndGlyphs" >Rh</text>
<text x="530.1" y="148" font-size="6.2" fill="#000" stroke="#000" stroke-width="0.2" textLength="3" lengthAdjust="spacingAndGlyphs" >1</text>
<text x="521.8" y="168.8" font-size="9.2" fill="#000" stroke="#000" stroke-width="0.38" textLength="8.2" lengthAdjust="spacingAndGlyphs" >Ni</text>
<text x="530.4" y="170.6" font-size="6.2" fill="#000" stroke="#000" stroke-width="0.2" textLength="3" lengthAdjust="spacingAndGlyphs" >1</text>
<text x="448" y="159.4" font-size="9.2" fill="#000" stroke="#000" stroke-width="0.38" textLength="8.2" lengthAdjust="spacingAndGlyphs" >Ni</text>
<text x="456.6" y="161.2" font-size="6.2" fill="#000" stroke="#000" stroke-width="0.2" textLength="3" lengthAdjust="spacingAndGlyphs" >1</text>
<text x="508.9" y="213.8" font-size="9.2" fill="#000" stroke="#000" stroke-width="0.38" textLength="10.3" lengthAdjust="spacingAndGlyphs" >Pd</text>
<text x="519.6" y="215.6" font-size="6.2" fill="#000" stroke="#000" stroke-width="0.2" textLength="3" lengthAdjust="spacingAndGlyphs" >1</text>
<text x="586.7" y="211.2" font-size="9.2" fill="#000" stroke="#000" stroke-width="0.38" textLength="10.3" lengthAdjust="spacingAndGlyphs" >Pd</text>
<text x="597.4" y="213" font-size="6.2" fill="#000" stroke="#000" stroke-width="0.2" textLength="3" lengthAdjust="spacingAndGlyphs" >1</text>
<text x="476.7" y="72" font-size="9.2" fill="#000" stroke="#000" stroke-width="0.15" textLength="9.6" lengthAdjust="spacingAndGlyphs" >Δq</text>
<text x="488.4" y="74.6" font-size="6.8" fill="#000" stroke="#000" stroke-width="0.15" textLength="9.2" lengthAdjust="spacingAndGlyphs" >NO</text>
<text x="497.6" y="76" font-size="4.8" fill="#000" stroke="#000" stroke-width="0.15" >3</text>
<path d="M501.00,67.60L501.00,70.80M499.61,68.40L502.39,70.00M502.39,68.40L499.61,70.00" stroke="#000" stroke-width="0.7" fill="none"/>
<text x="503.9" y="72" font-size="9.2" fill="#000" stroke="#000" stroke-width="0.15" textLength="5.7" lengthAdjust="spacingAndGlyphs" >=</text>
<text x="514" y="72" font-size="9.2" fill="#000" stroke="#000" stroke-width="0.15" textLength="37.9" lengthAdjust="spacingAndGlyphs" >−0.13Δμ</text>
<text x="552.3" y="74.6" font-size="6.8" fill="#000" stroke="#000" stroke-width="0.15" textLength="9.2" lengthAdjust="spacingAndGlyphs" >NO</text>
<text x="561.5" y="76" font-size="4.8" fill="#000" stroke="#000" stroke-width="0.15" >3</text>
<path d="M565.10,67.80L565.10,71.00M563.71,68.60L566.49,70.20M566.49,68.60L563.71,70.20" stroke="#000" stroke-width="0.7" fill="none"/>
<text x="570.2" y="72" font-size="9.2" fill="#000" stroke="#000" stroke-width="0.15" textLength="27.9" lengthAdjust="spacingAndGlyphs" >+ 0.98</text>
<text x="530.1" y="87.2" font-size="9.2" fill="#000" stroke="#000" stroke-width="0.15" textLength="6" lengthAdjust="spacingAndGlyphs" >R</text>
<text x="536.4" y="82.4" font-size="6.2" fill="#000" stroke="#000" stroke-width="0.15" textLength="3.4" lengthAdjust="spacingAndGlyphs" >2</text>
<text x="540.4" y="87.2" font-size="9.2" fill="#000" stroke="#000" stroke-width="0.15" textLength="26.6" lengthAdjust="spacingAndGlyphs" >=0.80</text>
<ellipse cx="378.4" cy="203.8" rx="5.0" ry="5.4" fill="#fff" stroke="#222" stroke-width="1.15"/>
<text x="387.1" y="207.2" font-size="8.4" fill="#000" stroke="#000" stroke-width="0.2" textLength="55" lengthAdjust="spacingAndGlyphs" >(111)/(0001)</text>
<rect x="373.7" y="213.8" width="9.8" height="11.0" fill="#efefef" stroke="#888" stroke-width="1.15"/>
<text x="387.6" y="222" font-size="8.4" fill="#000" stroke="#000" stroke-width="0.2" textLength="22.9" lengthAdjust="spacingAndGlyphs" >(100)</text>
<defs><linearGradient id="cb" x1="0" y1="1" x2="0" y2="0"><stop offset="0.0" stop-color="#54bcbc"/><stop offset="0.15" stop-color="#62c2c1"/><stop offset="0.28" stop-color="#8fd1ce"/><stop offset="0.38" stop-color="#bcdfdb"/><stop offset="0.47" stop-color="#dcdcd5"/><stop offset="0.55" stop-color="#e6ccc0"/><stop offset="0.63" stop-color="#e8b3a8"/><stop offset="0.74" stop-color="#e28aa0"/><stop offset="0.86" stop-color="#d8548a"/><stop offset="1.0" stop-color="#c80a6a"/></linearGradient></defs>
<rect x="615.4" y="54.4" width="8.2" height="174.2" fill="url(#cb)" stroke="#111" stroke-width="1.0"/>
<line x1="623.6" y1="54.4" x2="627.2" y2="54.4" stroke="#222" stroke-width="0.9" />
<text x="629.2" y="58.7" font-size="10" fill="#000" stroke="#000" stroke-width="0.2" textLength="29.5" lengthAdjust="spacingAndGlyphs" >−0.60</text>
<line x1="623.6" y1="97.95" x2="627.2" y2="97.95" stroke="#222" stroke-width="0.9" />
<text x="629.2" y="102.25" font-size="10" fill="#000" stroke="#000" stroke-width="0.2" textLength="29.5" lengthAdjust="spacingAndGlyphs" >−0.65</text>
<line x1="623.6" y1="141.5" x2="627.2" y2="141.5" stroke="#222" stroke-width="0.9" />
<text x="629.2" y="145.8" font-size="10" fill="#000" stroke="#000" stroke-width="0.2" textLength="29.5" lengthAdjust="spacingAndGlyphs" >−0.70</text>
<line x1="623.6" y1="185.05" x2="627.2" y2="185.05" stroke="#222" stroke-width="0.9" />
<text x="629.2" y="189.35" font-size="10" fill="#000" stroke="#000" stroke-width="0.2" textLength="29.5" lengthAdjust="spacingAndGlyphs" >−0.75</text>
<line x1="623.6" y1="228.6" x2="627.2" y2="228.6" stroke="#222" stroke-width="0.9" />
<text x="629.2" y="232.9" font-size="10" fill="#000" stroke="#000" stroke-width="0.2" textLength="29.5" lengthAdjust="spacingAndGlyphs" >−0.80</text>
<g transform="translate(673.8,116.2) rotate(90)" stroke="#000" stroke-width="0.2">
<text x="0" y="0" font-size="9.6" textLength="9.0" lengthAdjust="spacingAndGlyphs">m</text>
<text x="9.6" y="1.8" font-size="6.3" textLength="28.8" lengthAdjust="spacingAndGlyphs">aGC-DFT</text>
<text x="42.8" y="-0.5" font-size="10" textLength="3" lengthAdjust="spacingAndGlyphs">(</text>
<text x="46.4" y="-5.3" font-size="6.4" textLength="8.6" lengthAdjust="spacingAndGlyphs">eV</text>
<rect x="46.2" y="-2.9" width="8.8" height="0.7" fill="#000" stroke="none"/>
<text x="48.4" y="3.9" font-size="5.6" textLength="4.6" lengthAdjust="spacingAndGlyphs">V</text>
<text x="55.0" y="-0.5" font-size="10" textLength="3" lengthAdjust="spacingAndGlyphs">)</text>
</g>
</svg>
</body></html>
